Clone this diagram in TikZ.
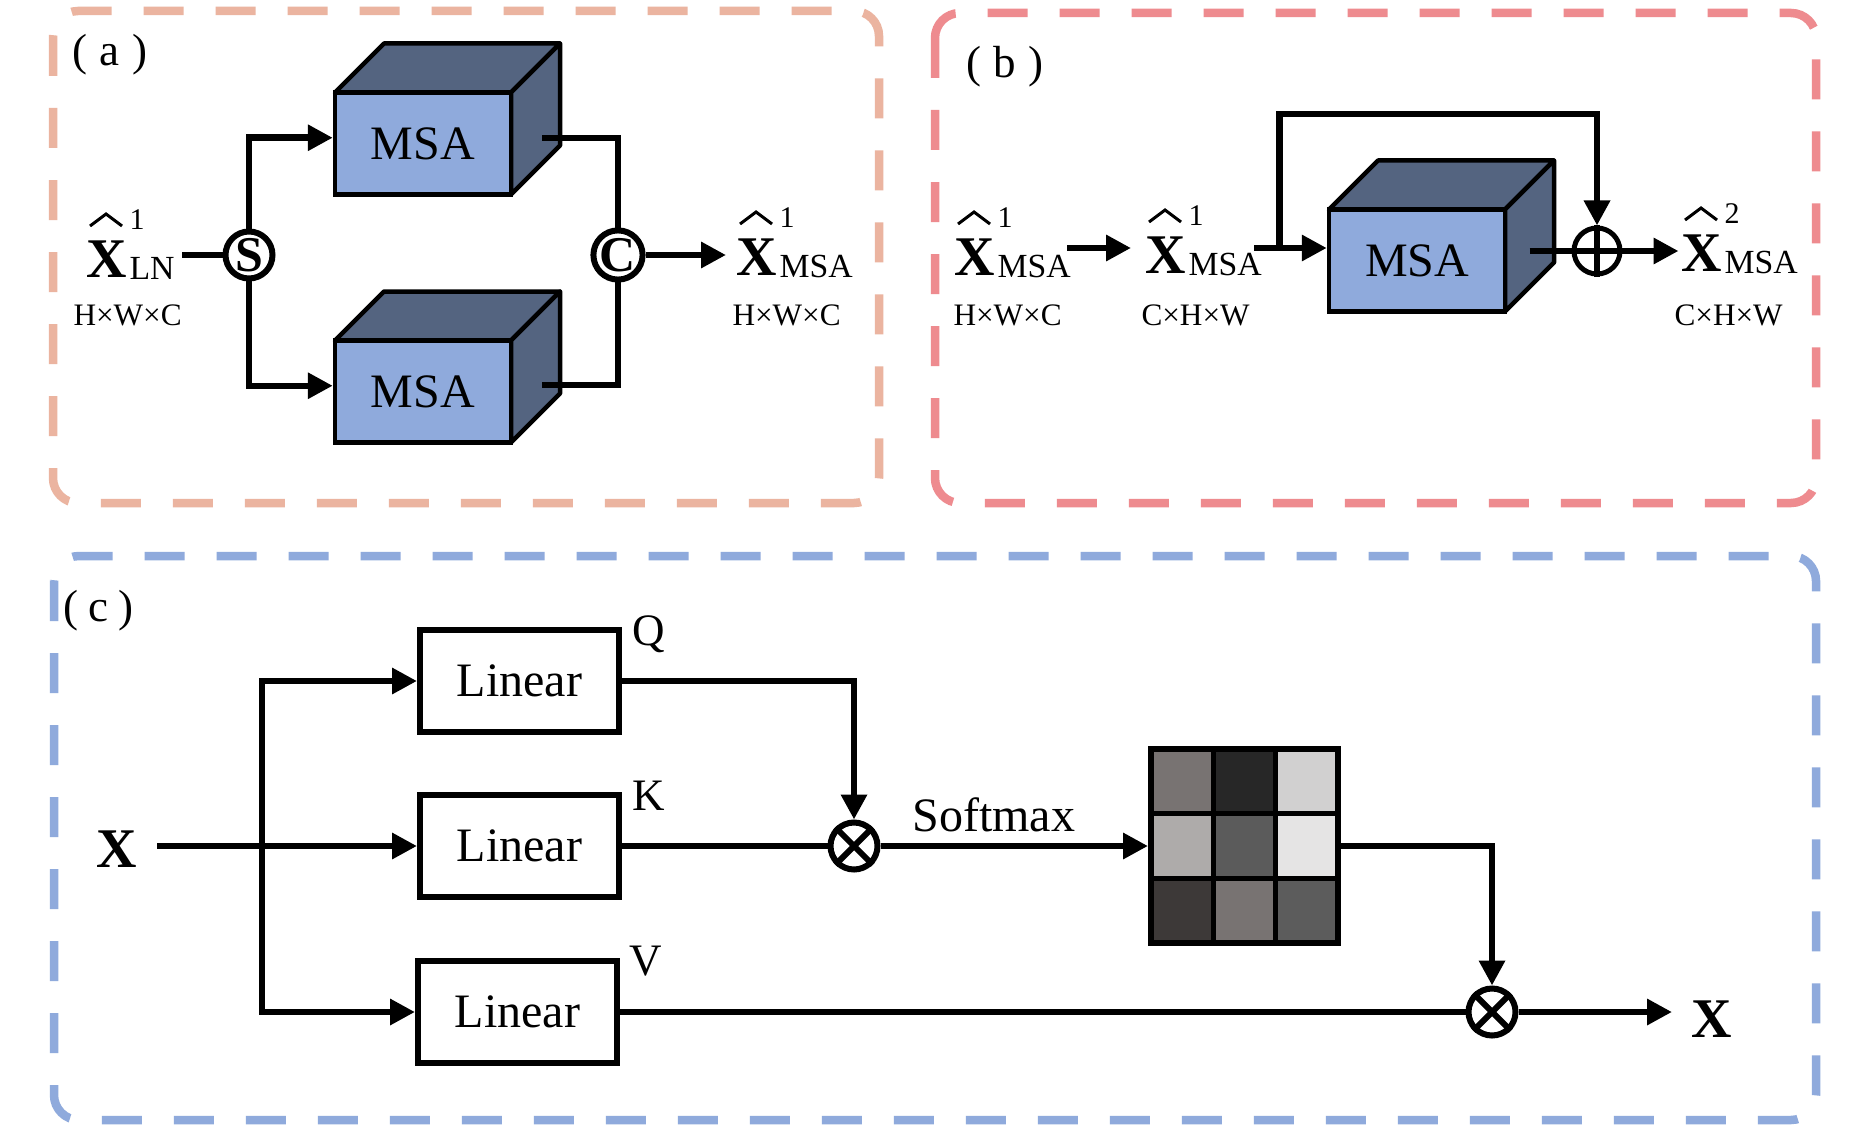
\documentclass[tikz,border=0pt]{standalone}
\usepackage{fontspec}
\setmainfont{Liberation Serif}
\usetikzlibrary{arrows.meta,calc}
\definecolor{bordA}{HTML}{EBB4A0}
\definecolor{bordB}{HTML}{EE8B8F}
\definecolor{bordC}{HTML}{8FAADC}
\definecolor{cubeFront}{HTML}{8FAADC}
\definecolor{cubeDark}{HTML}{546480}
\definecolor{cA}{HTML}{787372}
\definecolor{cB}{HTML}{272727}
\definecolor{cC}{HTML}{D1D0D0}
\definecolor{cD}{HTML}{AEABAA}
\definecolor{cE}{HTML}{5B5B5B}
\definecolor{cF}{HTML}{E5E4E4}
\definecolor{cG}{HTML}{3D3938}
\definecolor{cH}{HTML}{787372}
\definecolor{cI}{HTML}{5C5C5C}
\newcommand\myMain{\fontsize{19.2pt}{22pt}\selectfont}
\newcommand\myX{\fontsize{22.4pt}{26pt}\selectfont\bfseries}
\newcommand\mySub{\fontsize{13.5pt}{16pt}\selectfont}
\newcommand\mySup{\fontsize{12pt}{14pt}\selectfont}
\newcommand\myDim{\fontsize{12.5pt}{15pt}\selectfont}
\newcommand\myLab{\fontsize{18pt}{21pt}\selectfont}
\newcommand\myQKV{\fontsize{18pt}{21pt}\selectfont}
\newcommand\mySym{\fontsize{20pt}{24pt}\selectfont\bfseries}
% name, x of X, baseline, subscript, superscript
\newcommand\myxhat[5]{%
  \node[anchor=base west,inner sep=0pt,font=\myX] (#1) at (#2,#3) {X};
  \node[anchor=base west,inner sep=0pt,font=\mySub] (#1s) at (#2+43,#3+2) {#4};
  \node[anchor=base west,inner sep=0pt,font=\mySup] (#1p) at (#2+43,#3-48) {#5};
  \draw[line width=1.2pt,line join=miter] (#2+4,#3-51) -- (#2+20,#3-63) -- (#2+36,#3-51);
}
% name, center x, center y
\newcommand\mycube[3]{%
  \draw[cubeface] (#2-88,#3-51) -- (#2-39,#3-100) -- (#2+137,#3-100) -- (#2+88,#3-51) -- cycle;
  \draw[cubeface] (#2+88,#3-51) -- (#2+137,#3-100) -- (#2+137,#3+2) -- (#2+88,#3+51) -- cycle;
  \node[front] (#1) at (#2,#3) {MSA};
}
\begin{document}
\begin{tikzpicture}[x=0.4pt,y=-0.4pt,
  ln/.style={line width=2.6pt},
  arr/.style={-{Triangle[length=10pt,width=10pt]}},
  panel/.style={line width=3.4pt,dash pattern=on 16pt off 12.8pt,rounded corners=10pt},
  cubeface/.style={draw=black,line width=1.8pt,fill=cubeDark,line join=round},
  front/.style={draw=black,line width=1.8pt,fill=cubeFront,minimum width=70.4pt,minimum height=40.8pt,inner sep=0pt,font=\myMain},
  opnode/.style={circle,draw=black,line width=2.4pt,fill=white,minimum size=18.8pt,inner sep=0pt},
  linbox/.style={draw=black,line width=2.4pt,minimum width=79.6pt,minimum height=40.8pt,inner sep=0pt,font=\myMain},
  dimlab/.style={anchor=base west,inner sep=0pt,font=\myDim},
  panlab/.style={anchor=base west,inner sep=0pt,font=\myLab}]
\useasboundingbox (0,0) rectangle (1870,1125);
\fill[white] (0,0) rectangle (1870,1125);

% panels
\draw[panel,draw=bordA] (53,11) rectangle (879,503);
\draw[panel,draw=bordB] (935,13) rectangle (1816,503);
\draw[panel,draw=bordC] (54,556) rectangle (1816,1120);

\node[panlab] (la) at (72,66) {(\kern5pt a\kern5pt)};
\node[panlab] (lb) at (966,78) {(\kern5pt b\kern5pt)};
\node[panlab] (lc) at (63,621) {(\kern4pt c\kern4pt)};

% ---------- panel (a)
\mycube{A1}{423}{143.5}
\mycube{A2}{423}{391.5}
\myxhat{xa1}{86}{277}{LN}{1}
\myxhat{xa2}{736}{275}{MSA}{1}
\node[dimlab] (da1) at (73,326) {H×W×C};
\node[dimlab] (da2) at (732,326) {H×W×C};
\coordinate (aIn) at (182,255);
\coordinate (A1o) at (542,138);
\coordinate (A2o) at (542,385);
\draw[ln] (aIn) -- (249,255);
\draw[ln,arr] (249,255) |- ([yshift=2.3pt]A1.west);
\draw[ln,arr] (249,255) |- ([yshift=2.3pt]A2.west);
\draw[ln] (A1o) -| (618,255);
\draw[ln] (A2o) -| (618,255);
\node[opnode,font=\mySym] (S) at (249,255) {S};
\node[opnode,font=\mySym] (C) at (618,255) {C};
\draw[ln,arr,shorten >=4pt] (C.east) -- (xa2.west |- C.east);

% ---------- panel (b)
\myxhat{xb1}{954}{275}{MSA}{1}
\myxhat{xb2}{1145}{273}{MSA}{1}
\myxhat{xb3}{1681}{271}{MSA}{2}
\node[dimlab] (db1) at (953,326) {H×W×C};
\node[dimlab] (db2) at (1141,326) {C×H×W};
\node[dimlab] (db3) at (1674,325) {C×H×W};
\mycube{B}{1417}{260.5}
\node[opnode,line width=2pt,minimum size=18.4pt] (P) at (1597,251) {};
\coordinate (b1o) at (1067,248);
\coordinate (b2o) at (1254,248);
\coordinate (bj) at (1279.5,248);
\coordinate (btop) at (1279.5,114);
\coordinate (Bo) at (1529.5,251);
\draw[ln,arr,shorten >=5.6pt] (b1o) -- (xb2.west |- b1o);
\draw[ln,arr] (b2o) -- (B.west |- b2o);
\draw[ln,arr] (bj) -- (btop) -| (P.north);
\draw[ln] (Bo) -- (P.west);
\draw[ln] (P.north) -- (P.south) (P.west) -- (P.east);
\draw[ln,arr,shorten >=1pt] (P.east) -- (xb3.west |- P.east);

% ---------- panel (c)
\node[anchor=base west,inner sep=0pt,font=\myX] (xc1) at (96,867) {X};
\node[anchor=base west,inner sep=0pt,font=\myX] (xc2) at (1691,1037) {X};
\node[linbox] (Q) at (519.5,681) {Linear};
\node[linbox] (K) at (519.5,846) {Linear};
\node[linbox] (V) at (517.5,1012) {Linear};
\node[anchor=base west,inner sep=0pt,font=\myQKV] (lq) at (632,645) {Q};
\node[anchor=base west,inner sep=0pt,font=\myQKV] (lk) at (632,810) {K};
\node[anchor=base west,inner sep=0pt,font=\myQKV] (lv) at (629,975) {V};
\node[anchor=base west,inner sep=0pt,font=\myMain] (sm) at (912,831) {Softmax};
% attention matrix
\foreach \cols [count=\r from 0] in {{cA,cB,cC},{cD,cE,cF},{cG,cH,cI}}{
  \foreach \col [count=\c from 0] in \cols{
    \fill[\col] (1151+\c*62.33,749+\r*64.67) rectangle (1151+\c*62.33+62.33,749+\r*64.67+64.67);
  }
}
\foreach \i in {1,2}{
  \draw[line width=2pt] (1151+\i*62.33,749) -- (1151+\i*62.33,943);
  \draw[line width=2pt] (1151,749+\i*64.67) -- (1338,749+\i*64.67);
}
\node[draw=black,line width=2.4pt,minimum width=74.8pt,minimum height=77.6pt,inner sep=0pt] (mat) at (1244.5,846) {};
\node[opnode] (m1) at (854,846) {};
\node[opnode] (m2) at (1492,1012) {};
\draw[line width=2.4pt] (m1.45) -- (m1.225) (m1.135) -- (m1.315);
\draw[line width=2.4pt] (m2.45) -- (m2.225) (m2.135) -- (m2.315);
\coordinate (cXo) at (157,846);
\coordinate (cj) at (262,846);
\draw[ln,arr] (cXo) -- (K.west);
\draw[ln,arr] (cj) |- (Q.west);
\draw[ln,arr] (cj) |- (V.west);
\draw[ln,arr] (Q.east) -| (m1.north);
\draw[ln] (K.east) -- (m1.west);
\draw[ln,arr] (m1.east) -- (mat.west);
\draw[ln,arr] (mat.east) -| (m2.north);
\draw[ln] (V.east) -- (m2.west);
\draw[ln,arr,shorten >=7.6pt] (m2.east) -- (xc2.west |- m2.east);
\end{tikzpicture}
\end{document}
